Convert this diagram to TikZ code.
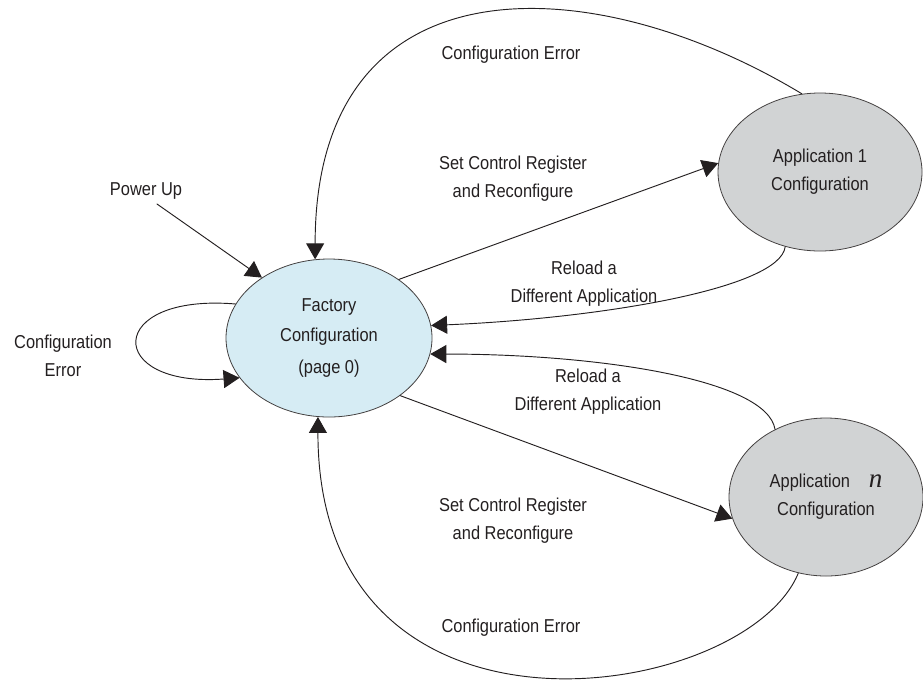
\documentclass[tikz,border=0pt]{standalone}
\usepackage{fontspec}
\setmainfont{Liberation Sans}[FakeStretch=0.88]
\newfontfamily\nfont{Liberation Serif}[Scale=1.45]
\usetikzlibrary{arrows.meta,shapes.geometric}
\definecolor{ink}{HTML}{231F20}
\definecolor{ice}{HTML}{D6ECF4}
\definecolor{fog}{HTML}{D1D3D4}

\begin{document}
\begin{tikzpicture}[
  x=0.75pt,
  y=-0.75pt,
  font=\fontsize{14}{21}\selectfont,
  line cap=round,
  line join=round,
  >={Triangle[length=12pt,width=13.5pt]},
  every node/.style={
    align=center,
    text=ink,
  },
  state/.style={
    ellipse,
    draw=ink!85,
    line width=0.6pt,
    inner sep=2pt,
    minimum width=153pt,
    minimum height=118.5pt,
  },
  facstate/.style={
    state,
    fill=ice,
    minimum width=154.5pt,
  },
  appstate/.style={
    state,
    fill=fog,
  },
  arr/.style={
    ->,
    ink,
    line width=0.7pt,
  },
]
\useasboundingbox (0,0) rectangle (923,679);

% --- nodes ---
\node[facstate] (fac) at (329,338) {Factory\\[1pt]Configuration\\[3pt](page 0)};
\node[appstate] (app1) at (820,172) {Application 1\\Configuration};
\node[appstate, minimum width=145.5pt] (appn) at (826,497)
  {Application\quad{\nfont\itshape n}\\Configuration};

% --- labels ---
\node (pwr) at (146,191) {Power Up};
\coordinate (pu) at (157,204);
\node (errtop) at (511,55) {Configuration Error};
\node (errbot) at (511,628) {Configuration Error};
\node (errself) at (63,356) {Configuration\\Error};
\node (setup) at (513,179) {Set Control Register\\and Reconfigure};
\node (setdn) at (513,521) {Set Control Register\\and Reconfigure};
\node (rldup) at (584,284) {Reload a\\Different Application};
\node (rlddn) at (588,392) {Reload a\\Different Application};

% --- arrows ---
\draw[arr] (pu) -- (fac.138);
\draw[arr] (fac.40) -- (app1.175);
\draw[arr] (fac.321) -- (appn.193);
\draw[arr] (app1.245) .. controls +(-5,42) and +(168,-7) .. (fac.7);
\draw[arr] (appn.127) .. controls +(-8,-50) and +(168,0) .. (fac.-9);
\draw[arr] (app1.103) .. controls +(-212,-128) and +(0,-303) .. (fac.100);
\draw[arr] (appn.250) .. controls +(-53,129) and +(0,353) .. (fac.262);
\draw[arr] (fac.160) .. controls +(-131,-11) and +(-135,10) .. (fac.204);

\end{tikzpicture}
\end{document}
